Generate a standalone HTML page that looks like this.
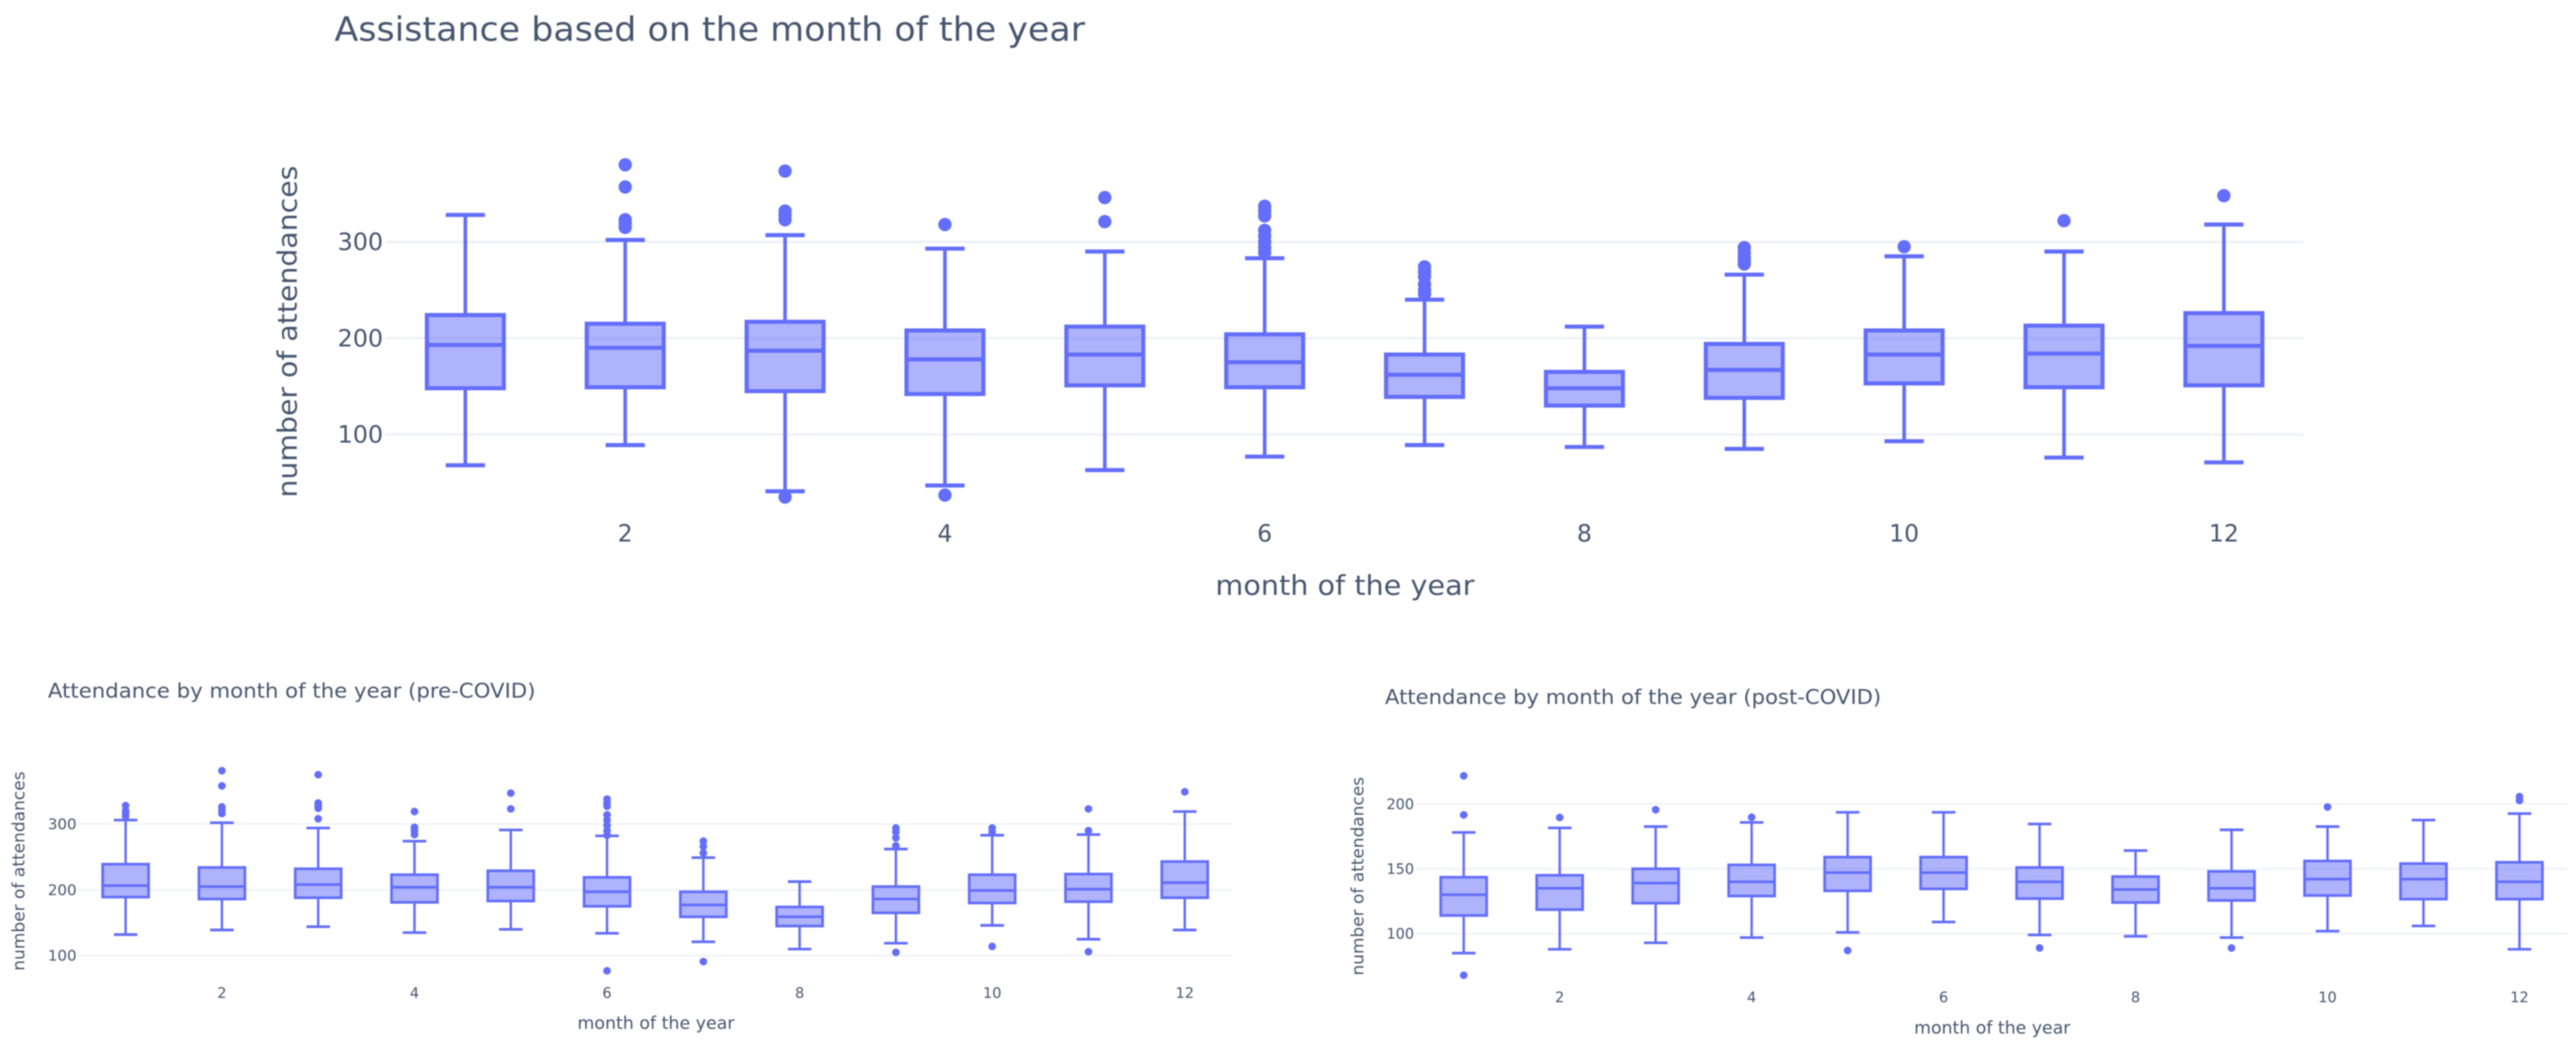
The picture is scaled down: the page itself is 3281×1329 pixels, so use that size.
<!DOCTYPE html>
<html lang="en">
<head>
<meta charset="utf-8">
<title>Assistance based on the month of the year</title>
<style>
html,body{margin:0;padding:0;background:#fff;width:3281px;height:1329px;overflow:hidden}
svg{display:block;filter:blur(.9px)}
text{font-family:"DejaVu Sans","Liberation Sans",sans-serif;fill:#47566f}
</style>
</head>
<body>
<svg id="figure" xmlns="http://www.w3.org/2000/svg" width="3281" height="1329" viewBox="0 0 3281 1329">
  <rect width="3281" height="1329" fill="#ffffff"/>

  <g id="chart-main">
    <text x="426" y="52" font-size="43" textLength="956" lengthAdjust="spacingAndGlyphs">Assistance based on the month of the year</text>
    <text transform="translate(378,634) rotate(-90)" font-size="34" textLength="423" lengthAdjust="spacingAndGlyphs">number of attendances</text>
    <text x="1548" y="758" font-size="35" textLength="330" lengthAdjust="spacingAndGlyphs">month of the year</text>
  </g>

  <g id="chart-pre">
    <text x="61" y="889" font-size="26" textLength="621" lengthAdjust="spacingAndGlyphs">Attendance by month of the year (pre-COVID)</text>
    <text transform="translate(31,1237) rotate(-90)" font-size="21" textLength="254" lengthAdjust="spacingAndGlyphs">number of attendances</text>
    <text x="735.5" y="1311" font-size="22" textLength="200" lengthAdjust="spacingAndGlyphs">month of the year</text>
  </g>

  <g id="chart-post">
    <text x="1764" y="897" font-size="26" textLength="632" lengthAdjust="spacingAndGlyphs">Attendance by month of the year (post-COVID)</text>
    <text transform="translate(1736.5,1243) rotate(-90)" font-size="21" textLength="253" lengthAdjust="spacingAndGlyphs">number of attendances</text>
    <text x="2438" y="1317" font-size="22" textLength="199" lengthAdjust="spacingAndGlyphs">month of the year</text>
  </g>
</svg>

<script>
const months = [1,2,3,4,5,6,7,8,9,10,11,12];
const xTickLabels = [2,4,6,8,10,12];

const mainYTicks = [100,200,300];
const mainLower = [68,89,41,47,63,77,89,87,85,93,76,71];
const mainQ1 = [148,149,145,142,151,149,139,130,138,153,149,151];
const mainMedian = [193,190,187,178,183,175,162,148,167,183,184,192];
const mainQ3 = [224,215,217,208,212,204,183,165,194,208,213,226];
const mainUpper = [328,302,307,293,290,283,240,212,266,285,290,318];
const mainOutliers = [
  [],
  [380,357,323,319,315],
  [373.5,332,327.5,323,35],
  [318,37],
  [346,321],
  [337,332,327,312,306,300,294,289],
  [274,269,264,256,250,246],
  [],
  [294,289,284,280,277],
  [295],
  [322],
  [348]
];

const preYTicks = [100,200,300];
const preLower = [132,139,144,135,140,134,121,110,119,146,125,139];
const preQ1 = [189,186,188,181,183,175,159,145,165,180,182,188];
const preMedian = [206.5,205,208,204,204,197,177,159,186,199,201,211];
const preQ3 = [239,234,232,223,229,219,197,174,205,223,224,243];
const preUpper = [306,302,294,274,291,282,249,212.5,262,283,284,319];
const preOutliers = [
  [328,320,316,312],
  [381,358,326,321,316],
  [375,332,328,324,308],
  [319,295,290,284],
  [347,323],
  [338,332,327,314,306,298,290,283,77],
  [274,266,256,91],
  [],
  [294,288,279,267,105],
  [294,288,114],
  [323,290,106],
  [349]
];

const postYTicks = [100,150,200];
const postLower = [85,88,93,97,101,109,99,98,97,102,106,88];
const postQ1 = [114,118.5,123.5,129,133,134.5,127,124,125.6,129.4,126.6,126.6];
const postMedian = [130,135,139,140,147,147,140,134,135,142,142,140];
const postQ3 = [143.5,145,150,153,159,159,151,144,148,156,154,155];
const postUpper = [178,181.5,182.5,185.7,193.5,193.5,184.5,164,180,182.5,187.5,192.5];
const postOutliers = [
  [221.6,191.5,68],
  [189.5],
  [195.5],
  [189.7],
  [87],
  [],
  [89],
  [],
  [89],
  [197.6],
  [],
  [205.6,202.6]
];

const SVG_NS = 'http://www.w3.org/2000/svg';
const BOX_COLOR = '#636efa';

function linearScale(d0, d1, r0, r1) {
  return function (v) { return r0 + (v - d0) * (r1 - r0) / (d1 - d0); };
}

function makeEl(tag, parent, props) {
  const el = document.createElementNS(SVG_NS, tag);
  for (const k in props) el.setAttribute(k, props[k]);
  parent.appendChild(el);
  return el;
}

function drawChart(cfg) {
  const root = document.getElementById(cfg.id);
  const x = linearScale(1, 12, cfg.xAt1, cfg.xAt12);
  const y = linearScale(cfg.dLow, cfg.dHigh, cfg.yLow, cfg.yHigh);
  const first = root.firstChild;

  const axes = document.createElementNS(SVG_NS, 'g');
  
  
  root.insertBefore(axes, first);

  cfg.yTicks.forEach(function (t) {
    const grid = makeEl('line', axes, { x1: x(0.5), x2: x(12.5), y1: y(t), y2: y(t), stroke: '#edf1f8', 'stroke-width': cfg.gridWidth });
    
    
    const label = makeEl('text', axes, { x: cfg.yLabelX, y: y(t) + cfg.yLabelDy, 'text-anchor': 'end', 'font-size': cfg.tickSize, textLength: cfg.tickLen3, lengthAdjust: 'spacingAndGlyphs' });
    label.textContent = t;
    
    
  });

  xTickLabels.forEach(function (t) {
    const label = makeEl('text', axes, { x: x(t), y: cfg.xLabelY, 'text-anchor': 'middle', 'font-size': cfg.tickSize });
    label.textContent = t;
    
    
  });

  months.forEach(function (m, i) {
    const g = document.createElementNS(SVG_NS, 'g');
    
    
    root.insertBefore(g, first);

    const cx = x(m);
    const hw = cfg.boxWidth / 2;
    const capHw = cfg.capWidth / 2;
    const line = { stroke: BOX_COLOR, 'stroke-width': cfg.stroke };
    const stem = { stroke: BOX_COLOR, 'stroke-width': cfg.stemStroke };

    const box = makeEl('rect', g, Object.assign({ x: cx - hw, y: y(cfg.q3[i]), width: cfg.boxWidth, height: y(cfg.q1[i]) - y(cfg.q3[i]), fill: 'rgba(99,110,250,0.52)' }, line));
    
    

    const median = makeEl('line', g, Object.assign({ x1: cx - hw, x2: cx + hw, y1: y(cfg.median[i]), y2: y(cfg.median[i]) }, line));
    
    

    const stemUp = makeEl('line', g, Object.assign({ x1: cx, x2: cx, y1: y(cfg.q3[i]), y2: y(cfg.upper[i]) }, stem));
    
    

    const stemDown = makeEl('line', g, Object.assign({ x1: cx, x2: cx, y1: y(cfg.q1[i]), y2: y(cfg.lower[i]) }, stem));
    
    

    const capUp = makeEl('line', g, Object.assign({ x1: cx - capHw, x2: cx + capHw, y1: y(cfg.upper[i]), y2: y(cfg.upper[i]) }, line));
    
    

    const capDown = makeEl('line', g, Object.assign({ x1: cx - capHw, x2: cx + capHw, y1: y(cfg.lower[i]), y2: y(cfg.lower[i]) }, line));
    
    

    cfg.outliers[i].forEach(function (v) {
      const dot = makeEl('circle', g, { cx: cx, cy: y(v), r: cfg.dotR, fill: BOX_COLOR });
      
      
    });
  });
}

drawChart({
  id: 'chart-main', prefix: 'main',
  q1: mainQ1, median: mainMedian, q3: mainQ3, lower: mainLower, upper: mainUpper, outliers: mainOutliers,
  yTicks: mainYTicks,
  xAt1: 592.7, xAt12: 2832.5, dLow: 100, dHigh: 300, yLow: 553.6, yHigh: 308.2,
  boxWidth: 98, capWidth: 50, stroke: 5.2, stemStroke: 4.6, dotR: 8.5, gridWidth: 3,
  tickSize: 30, tickLen3: 58, yLabelX: 488, yLabelDy: 10.5, xLabelY: 690
});

drawChart({
  id: 'chart-pre', prefix: 'pre-covid',
  q1: preQ1, median: preMedian, q3: preQ3, lower: preLower, upper: preUpper, outliers: preOutliers,
  yTicks: preYTicks,
  xAt1: 160, xAt12: 1509, dLow: 100, dHigh: 300, yLow: 1217.7, yHigh: 1050,
  boxWidth: 58.5, capWidth: 30, stroke: 3.4, stemStroke: 3.1, dotR: 4.9, gridWidth: 2,
  tickSize: 18.5, tickLen3: 36.5, yLabelX: 97.5, yLabelDy: 6.5, xLabelY: 1271.5
});

drawChart({
  id: 'chart-post', prefix: 'post-covid',
  q1: postQ1, median: postMedian, q3: postQ3, lower: postLower, upper: postUpper, outliers: postOutliers,
  yTicks: postYTicks,
  xAt1: 1864.3, xAt12: 3209, dLow: 100, dHigh: 200, yLow: 1189.7, yHigh: 1024.3,
  boxWidth: 58.5, capWidth: 30, stroke: 3.4, stemStroke: 3.1, dotR: 4.9, gridWidth: 2,
  tickSize: 18.5, tickLen3: 35, yLabelX: 1801, yLabelDy: 6.5, xLabelY: 1277
});
</script>
</body>
</html>
